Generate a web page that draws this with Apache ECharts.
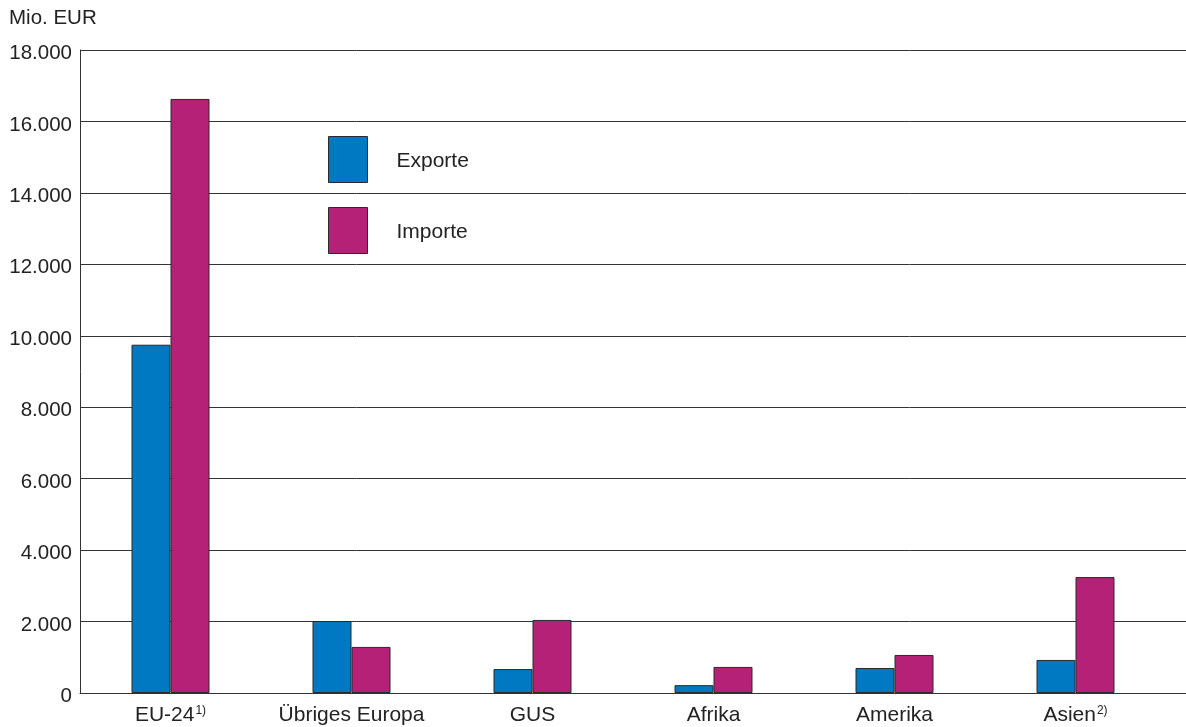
<!DOCTYPE html>
<html><head><meta charset="utf-8">
<script src="https://cdn.jsdelivr.net/npm/echarts@6/dist/echarts.min.js"></script>
<style>html,body{margin:0;padding:0;background:#fff}#c{width:1186px;height:727px}</style>
</head><body><div id="c"></div>
<script>
const categories = ['EU-24{s|1)}', 'Übriges Europa', 'GUS', 'Afrika', 'Amerika', 'Asien{s|2)}'];
const exporte = [9750, 2015, 670, 220, 700, 925];
const importe = [16630, 1290, 2045, 730, 1065, 3245];
const yMin = 0, yMax = 18000, yStep = 2000;
const unitLabel = 'Mio. EUR';

const fmt = v => '{v|' + String(v).replace(/\B(?=(\d{3})+(?!\d))/g, '.') + '}';
const font = 'Liberation Sans, Arial, sans-serif';
const chart = echarts.init(document.getElementById('c'));
chart.setOption({
  animation: false,
  backgroundColor: '#fff',
  title: { text: unitLabel, left: 9, top: 8, padding: 0, textStyle: { fontFamily: font, fontSize: 20.5, fontWeight: 'normal', color: '#222' } },
  legend: {
    orient: 'vertical', left: 328, top: 136, padding: 0, itemWidth: 39, itemHeight: 46, itemGap: 24,
    icon: 'rect',
    itemStyle: { borderWidth: 1, borderColor: '#2a2a2a' },
    formatter: n => '{t|' + n + '}',
    textStyle: { fontFamily: font, fontSize: 21, color: '#222',
      rich: { t: { fontFamily: font, fontSize: 21, color: '#222', padding: [4, 0, 0, 24] } } },
    data: ['Exporte', 'Importe']
  },
  grid: [
    { left: 80, right: 20, top: 50, bottom: 34 },
    { left: 80, right: 0, top: 50, bottom: 34 }
  ],
  xAxis: [
    { type: 'category', gridIndex: 0, data: categories,
      axisLine: { show: true, lineStyle: { color: '#333', width: 1 } },
      axisTick: { show: false },
      axisLabel: { interval: 0, fontFamily: font, fontSize: 21, color: '#222', margin: 12,
        rich: { s: { fontFamily: font, fontSize: 12, color: '#222', verticalAlign: 'top', padding: [0, 0, 9, 1] } } } },
    { type: 'category', gridIndex: 1, data: [''], show: false }
  ],
  yAxis: [
    { type: 'value', gridIndex: 0, min: yMin, max: yMax, interval: yStep,
      axisLine: { show: true, lineStyle: { color: '#333', width: 1 } },
      axisTick: { show: false },
      splitLine: { show: false },
      axisLabel: { fontFamily: font, fontSize: 20.5, color: '#222', margin: 8, formatter: fmt,
        rich: { v: { fontFamily: font, fontSize: 20.5, color: '#222', padding: [7, 0, 0, 0] } } } },
    { type: 'value', gridIndex: 1, min: yMin, max: yMax, interval: yStep,
      axisLine: { show: false }, axisTick: { show: false }, axisLabel: { show: false },
      splitLine: { show: true, lineStyle: { color: '#333', width: 1 } } }
  ],
  series: [
    { name: 'Exporte', type: 'bar', xAxisIndex: 0, yAxisIndex: 0, data: exporte, barWidth: 39, barGap: '0%', z: 5,
      itemStyle: { color: '#0079C2', borderColor: '#2a2a2a', borderWidth: 1 } },
    { name: 'Importe', type: 'bar', xAxisIndex: 0, yAxisIndex: 0, data: importe, barWidth: 39, barGap: '0%', z: 5,
      itemStyle: { color: '#B52177', borderColor: '#2a2a2a', borderWidth: 1 } }
  ]
});
</script></body></html>
